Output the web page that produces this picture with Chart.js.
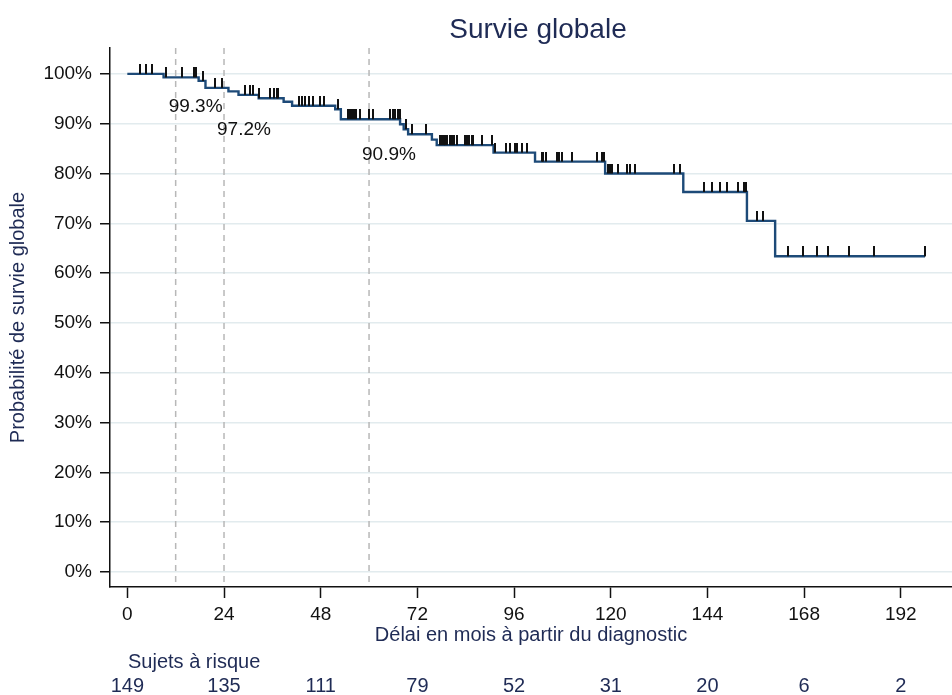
<!DOCTYPE html>
<html>
<head>
<meta charset="utf-8">
<script src="https://cdn.jsdelivr.net/npm/chart.js@4"></script>
<style>
  html, body { margin: 0; padding: 0; background: #fff; }
  #wrap { width: 952px; height: 695px; }
</style>
</head>
<body>
<div id="wrap"><canvas id="kmChart"></canvas></div>
<script>
// Courbe de Kaplan-Meier : temps des événements (mois) et survie (%) après chaque événement
var eventMonths = [0, 9.0, 17.7, 19.4, 25.1, 27.6, 32.6, 38.8, 40.9, 51.6, 53.0, 67.7, 68.6, 69.7, 75.6, 76.8, 90.9, 101.2, 118.6, 138.0, 153.8, 160.8, 198.0];
var survivalPct = [100, 99.3, 98.6, 97.2, 96.5, 95.8, 95.1, 94.4, 93.6, 92.9, 90.9, 89.9, 88.9, 87.9, 86.8, 85.7, 84.2, 82.4, 80.0, 76.3, 70.5, 63.4, 63.4];

// sujets censurés (mois)
var censorMonths = [3.2, 4.7, 6.1, 9.7, 13.6, 16.5, 17.1, 18.8, 21.8, 23.5, 29.3, 30.5, 31.3, 32.8,
  35.5, 36.3, 37.1, 37.4, 42.5, 43.3, 44.2, 45.0, 46.2, 47.9, 48.9, 52.4, 54.9, 55.3, 55.8, 56.3,
  56.8, 57.8, 59.9, 61.0, 65.3, 65.9, 66.5, 67.2, 67.6, 69.2, 70.6, 74.2, 77.7, 78.1, 78.5, 78.9,
  79.3, 80.1, 80.5, 81.1, 81.8, 83.9, 84.4, 84.9, 85.5, 85.9, 88.0, 90.5, 91.3, 94.0, 95.0, 96.3,
  96.8, 97.9, 99.2, 102.9, 103.3, 103.8, 106.6, 107.2, 107.8, 110.3, 116.5, 117.8, 118.4, 119.4,
  119.8, 120.3, 121.9, 124.0, 124.8, 126.0, 135.6, 137.2, 143.2, 145.1, 147.0, 148.8, 151.5,
  153.1, 153.6, 156.2, 157.7, 163.9, 167.6, 171.3, 173.9, 179.2, 185.4, 197.9, 198.0];

var xTickMonths = [0, 24, 48, 72, 96, 120, 144, 168, 192];
var yTickPct = [0, 10, 20, 30, 40, 50, 60, 70, 80, 90, 100];
var atRisk = [149, 135, 111, 79, 52, 31, 20, 6, 2];

// repères à 1, 2 et 5 ans
var refMonths = [12, 24, 60];
var refLabels = ['99.3%', '97.2%', '90.9%'];

var NAVY = '#1f2b55';
var FONT = "'Liberation Sans', Arial, sans-serif";

function survivalAt(t) {
  var s = survivalPct[0];
  for (var i = 0; i < eventMonths.length; i++) {
    if (eventMonths[i] <= t) s = survivalPct[i];
  }
  return s;
}

var curvePoints = eventMonths.map(function (m, i) { return { x: m, y: survivalPct[i] }; });
var censorPoints = censorMonths.map(function (m) { return { x: m, y: survivalAt(m) }; });

// petite barre verticale au-dessus du point (moitié basse transparente)
var tickMark = document.createElement('canvas');
tickMark.width = 2;
tickMark.height = 20;
var tctx = tickMark.getContext('2d');
tctx.fillStyle = '#111';
tctx.fillRect(0, 0, 2, 10);

var decorPlugin = {
  id: 'kmDecor',
  beforeDatasetsDraw: function (chart) {
    var ctx = chart.ctx, area = chart.chartArea, xs = chart.scales.x;
    ctx.save();
    ctx.strokeStyle = '#b8b8b8';
    ctx.lineWidth = 1.5;
    ctx.setLineDash([6, 5]);
    refMonths.forEach(function (m) {
      var px = xs.getPixelForValue(m);
      ctx.beginPath();
      ctx.moveTo(px, area.top);
      ctx.lineTo(px, area.bottom);
      ctx.stroke();
    });
    ctx.restore();
  },
  afterDraw: function (chart) {
    var ctx = chart.ctx, xs = chart.scales.x, ys = chart.scales.y;
    var labelDy = [29, 42, 36];
    ctx.save();
    ctx.font = '19px ' + FONT;
    ctx.fillStyle = '#111';
    ctx.textAlign = 'left';
    ctx.textBaseline = 'middle';
    refMonths.forEach(function (m, i) {
      ctx.fillText(refLabels[i], xs.getPixelForValue(m) - 7, ys.getPixelForValue(survivalAt(m)) + labelDy[i]);
    });

    // titre
    ctx.font = '28px ' + FONT;
    ctx.fillStyle = NAVY;
    ctx.textAlign = 'center';
    ctx.fillText('Survie globale', 538, 30);

    // sujets à risque
    ctx.font = '20px ' + FONT;
    ctx.textAlign = 'left';
    ctx.fillText('Sujets à risque', 128, 662);
    ctx.textAlign = 'center';
    xTickMonths.forEach(function (m, i) {
      ctx.fillText(String(atRisk[i]), xs.getPixelForValue(m), 686);
    });
    ctx.restore();
  }
};

new Chart(document.getElementById('kmChart'), {
  type: 'line',
  data: {
    datasets: [{
      label: 'Survie',
      data: curvePoints,
      stepped: 'before',
      borderColor: '#1d4a78',
      borderWidth: 2.4,
      pointRadius: 0,
      fill: false,
      order: 2
    }, {
      label: 'Censure',
      data: censorPoints,
      showLine: false,
      pointStyle: tickMark,
      pointRadius: 5,
      order: 1
    }]
  },
  options: {
    responsive: true,
    maintainAspectRatio: false,
    animation: false,
    events: [],
    layout: { autoPadding: false, padding: { top: 48, right: 0, bottom: 48, left: 0 } },
    plugins: {
      legend: { display: false },
      tooltip: { enabled: false }
    },
    scales: {
      x: {
        type: 'linear',
        min: -4.3,
        max: 204.7,
        afterBuildTicks: function (scale) {
          scale.ticks = xTickMonths.map(function (v) { return { value: v }; });
        },
        afterFit: function (scale) {
          scale.height = 60;
          scale.paddingLeft = 0;
          scale.paddingRight = 0;
        },
        grid: { drawOnChartArea: false, drawTicks: true, tickLength: 11, tickColor: '#111', tickWidth: 1.5 },
        border: { display: true, color: '#111', width: 1.5 },
        ticks: { color: '#111', font: { family: FONT, size: 19 }, padding: 5, maxRotation: 0 },
        title: { display: true, text: 'Délai en mois à partir du diagnostic', color: NAVY, font: { family: FONT, size: 20 }, padding: { top: 0, bottom: 0 } }
      },
      y: {
        type: 'linear',
        min: -3,
        max: 105.2,
        afterBuildTicks: function (scale) {
          scale.ticks = yTickPct.map(function (v) { return { value: v }; });
        },
        afterFit: function (scale) {
          scale.width = 110;
          scale.paddingTop = 0;
          scale.paddingBottom = 0;
        },
        grid: { color: '#e2ebee', lineWidth: 1.5, tickLength: 10, tickColor: '#111', tickWidth: 1.5 },
        border: { display: true, color: '#111', width: 1.5 },
        ticks: { color: '#111', font: { family: FONT, size: 19 }, padding: 8, callback: function (v) { return v + '%'; } },
        title: { display: true, text: 'Probabilité de survie globale', color: NAVY, font: { family: FONT, size: 20 }, padding: { top: 6, bottom: 0 } }
      }
    }
  },
  plugins: [decorPlugin]
});
</script>
</body>
</html>
